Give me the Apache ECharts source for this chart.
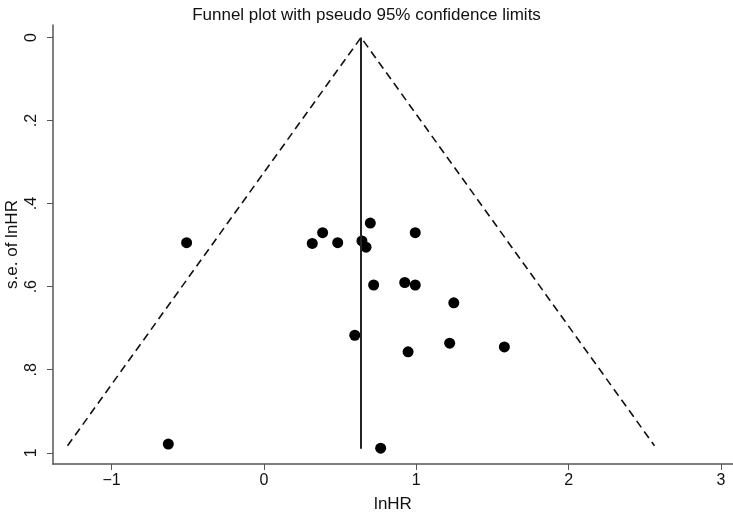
<!DOCTYPE html>
<html>
<head>
<meta charset="utf-8">
<script src="https://cdn.jsdelivr.net/npm/echarts@6/dist/echarts.min.js"></script>
<style>
html,body{margin:0;padding:0;background:#fff;}
#chart{width:733px;height:512px;}
</style>
</head>
<body>
<div id="chart"></div>
<script>
// Study effect sizes (lnHR) and their standard errors
var lnHR = [-0.508, 0.385, 0.317, 0.484, 0.643, 0.670, 0.698, 0.993, 0.720, 0.924, 0.993, 1.246, 0.596, 0.946, 1.219, 1.578, -0.628, 0.766];
var seLnHR = [0.494, 0.470, 0.496, 0.494, 0.490, 0.505, 0.447, 0.470, 0.596, 0.590, 0.596, 0.639, 0.717, 0.757, 0.736, 0.745, 0.979, 0.989];
// pooled (fixed-effect) estimate and funnel depth
var pooledEstimate = 0.637;
var funnelMaxSE = 0.983;
var pooledLineMaxSE = 0.99;
// tick labels
var xTicks = [-1, 0, 1, 2, 3];
var xTickLabels = ['\u22121', '0', '1', '2', '3'];
var yTicks = [0, 0.2, 0.4, 0.6, 0.8, 1];
var yTickLabels = ['0', '.2', '.4', '.6', '.8', '1'];

var FONT = "'Liberation Sans', sans-serif";
var points = lnHR.map(function (v, i) { return [v, seLnHR[i]]; });
var funnel = [
  [pooledEstimate - 1.96 * funnelMaxSE, funnelMaxSE],
  [pooledEstimate, 0],
  [pooledEstimate + 1.96 * funnelMaxSE, funnelMaxSE]
];
var vline = [[pooledEstimate, 0], [pooledEstimate, pooledLineMaxSE]];

var chart = echarts.init(document.getElementById('chart'));
chart.setOption({
  animation: false,
  backgroundColor: '#fff',
  title: {
    text: 'Funnel plot with pseudo 95% confidence limits',
    left: 'center', top: 2,
    textStyle: { fontFamily: FONT, fontSize: 17, fontWeight: 'normal', color: '#111' }
  },
  grid: { left: 53, right: 0, top: 25, bottom: 48, containLabel: false, outerBoundsMode: 'none' },
  xAxis: {
    type: 'value', min: -1.385, max: 3.079,
    name: 'lnHR', nameLocation: 'middle', nameGap: 32,
    nameTextStyle: { fontFamily: FONT, fontSize: 17, color: '#111' },
    axisLine: { show: true, onZero: false, lineStyle: { color: '#555', width: 1.5 } },
    axisTick: { show: true, length: 6, customValues: xTicks, lineStyle: { color: '#555', width: 1 } },
    axisLabel: {
      customValues: xTicks, margin: 9,
      fontFamily: FONT, fontSize: 16, color: '#111',
      formatter: function (v) { var i = xTicks.indexOf(Math.round(v)); return xTickLabels[i]; }
    },
    splitLine: { show: false }
  },
  yAxis: {
    type: 'value', inverse: true, min: -0.030, max: 1.027,
    name: 's.e. of lnHR', nameLocation: 'middle', nameGap: 32, nameMoveOverlap: false,
    nameTextStyle: { fontFamily: FONT, fontSize: 17, color: '#111' },
    axisLine: { show: true, onZero: false, lineStyle: { color: '#555', width: 1.5 } },
    axisTick: { show: true, length: 6, customValues: yTicks, lineStyle: { color: '#555', width: 1 } },
    axisLabel: {
      customValues: yTicks, rotate: 90, margin: 13,
      fontFamily: FONT, fontSize: 16, color: '#111',
      formatter: function (v) {
        for (var i = 0; i < yTicks.length; i++) { if (Math.abs(yTicks[i] - v) < 1e-6) return yTickLabels[i]; }
        return '';
      }
    },
    splitLine: { show: false }
  },
  series: [
    {
      type: 'line', data: funnel, symbol: 'none', silent: true,
      lineStyle: { color: '#111', width: 1.6, type: [8, 5] }
    },
    {
      type: 'line', data: vline, symbol: 'none', silent: true,
      lineStyle: { color: '#222', width: 2 }
    },
    {
      type: 'scatter', data: points, symbol: 'circle', symbolSize: 11,
      itemStyle: { color: '#000', opacity: 1 }
    }
  ]
});
</script>
</body>
</html>
